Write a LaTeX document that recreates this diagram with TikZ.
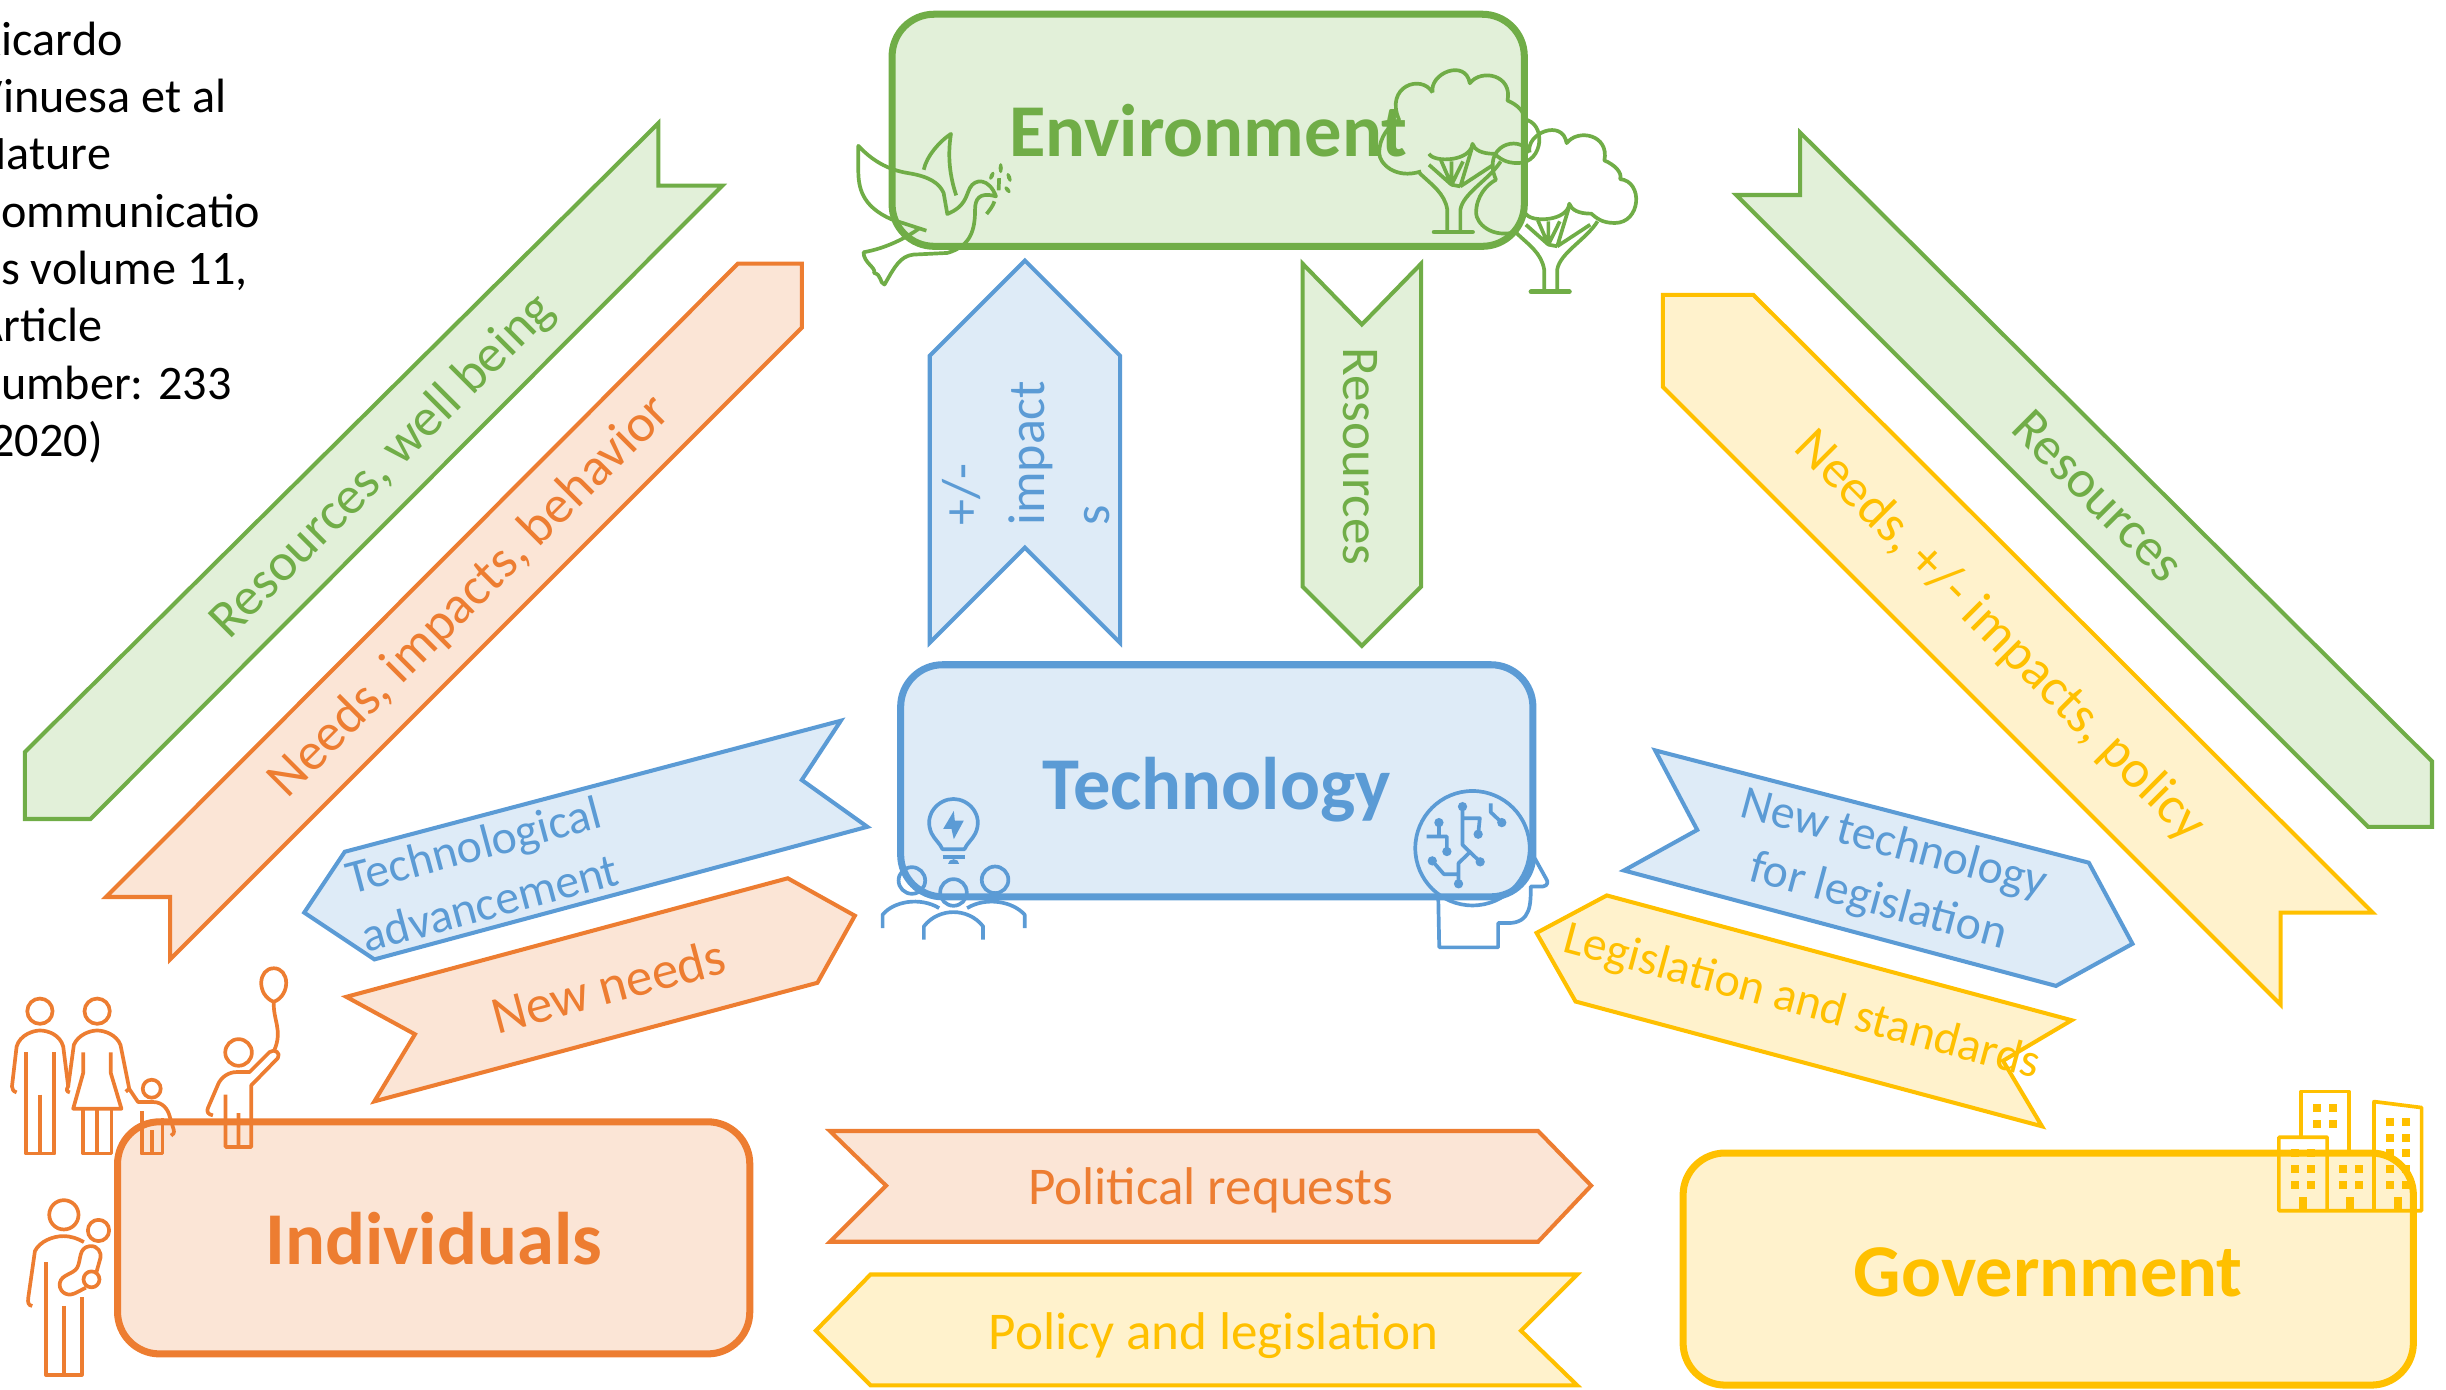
\documentclass[tikz,border=0pt]{standalone}
\usepackage{fontspec}
\setmainfont{Carlito}
\definecolor{cg}{HTML}{70AD47}\definecolor{cgf}{HTML}{E2F0D9}
\definecolor{cb}{HTML}{5B9BD5}\definecolor{cbf}{HTML}{DEEBF7}
\definecolor{co}{HTML}{ED7D31}\definecolor{cof}{HTML}{FBE5D6}
\definecolor{cy}{HTML}{FFC000}\definecolor{cyf}{HTML}{FFF2CC}
\tikzset{
 bx/.style={draw=#1,fill=#1f,line width=2pt,rounded corners=.42cm,minimum width=6.32cm,minimum height=2.32cm,inner sep=0pt,text=#1,font=\fontsize{21.2}{25}\selectfont\bfseries},
 ar/.style={draw=#1,fill=#1f,line width=1.15pt,miter limit=10},
 lb/.style={text=#1,inner sep=0pt,align=center,font=\fontsize{15.1}{18}\selectfont},
 lbs/.style={text=#1,inner sep=0pt,font=\fontsize{13.6}{17}\selectfont},
 ic/.style={draw=#1,line width=1.05pt,line join=round,fill=none},
 icf/.style={fill=#1,draw=none},
}
\begin{document}
\begin{tikzpicture}[x=0.0156cm,y=-0.0156cm]
\useasboundingbox (0,0) rectangle (1568,891);
% top-left note
\node[anchor=north west,inner sep=0pt,align=left,font=\fontsize{13.7}{16.3}\selectfont] (note) at (-16,13.5) {Ricardo\\Vinuesa et al\\Nature\\Communicatio\\ns volume 11,\\Article\\number: 233\\(2020)};
% boxes
\node[bx=cg] (env) at (774.5,83.5) {Environment};
\node[bx=cb,text depth=0pt,text height=16.5pt] (tech) at (780,500.5) {Technology};
\node[bx=co,text height=15.5pt] (ind) at (278,793.5) {Individuals};
\node[bx=cy,minimum width=7.3cm,text height=16pt] (gov) at (1313,813.5) {Government};
% ribbons
\draw[ar=cg] (16,482)--(422,79)--(422,119)--(463,119)--(58,525)--(16,525)--cycle;
\draw[ar=co] (473,169)--(514,169)--(514,210)--(109,615)--(109,575)--(68,575)--cycle;
\draw[ar=cg] (1154,85)--(1154,125)--(1113,125)--(1518,530)--(1559,530)--(1559,488)--cycle;
\draw[ar=cy] (1066,189)--(1124,189)--(1521,585)--(1462,585)--(1462,644)--(1066,248)--cycle;
\draw[ar=cb] (657,167)--(718,228)--(718,412)--(657,351)--(596,412)--(596,228)--cycle;
\draw[ar=cg] (835,169)--(873,208)--(911,169)--(911,376)--(873,414)--(835,376)--cycle;
\draw[ar=cb] (195,585)--(221,546)--(539,462)--(514,500)--(556,530)--(240,615)--cycle;
\draw[ar=co] (222,639)--(505,563)--(548,587)--(524,630)--(240,706)--(266,663)--cycle;
\draw[ar=cb] (1061,481)--(1339,553)--(1367,605)--(1318,632)--(1041,558)--(1088,532)--cycle;
\draw[ar=cy] (1030,574)--(1328,654)--(1284,680)--(1309,722)--(1010,642)--(985,598)--cycle;
\draw[ar=co] (532,725)--(986,725)--(1020,760)--(986,796)--(532,796)--(568,760)--cycle;
\draw[ar=cy] (1011,817)--(975,853)--(1011,888)--(558,888)--(523,853)--(558,817)--cycle;
% labels
\node[lb=cg,rotate=45] (l1) at (245.5,299) {Resources, well being};
\node[lb=co,rotate=45] (l2) at (301.5,382.5) {Needs, impacts, behavior};
\node[lb=cg,rotate=-45] (l3) at (1345,318) {Resources};
\node[lb=cy,rotate=-45] (l4) at (1282,408) {Needs, +/- impacts, policy};
\node[lb=cb,rotate=90,align=left,font=\fontsize{14.8}{18.6}\selectfont] (l5) at (658,290.5) {+/-\\impact\\s};
\node[lb=cg,rotate=-90] (l6) at (872,292.5) {Resources};
\node[lbs=cb,rotate=15,align=left] (l7) at (309,560) {Technological\\advancement};
\node[lb=co,rotate=15] (l8) at (390,632) {New needs};
\node[lbs=cb,rotate=-15,align=center] (l9) at (1209,560) {New technology\\for legislation};
\node[lbs=cy,rotate=-15] (l10) at (1155,643) {Legislation and standards};
\node[lb=co] (l11) at (776,763) {Political requests};
\node[lb=cy] (l12) at (778,856) {Policy and legislation};
% family icons (crop 0,940; 3x)
\begin{scope}[shift={(0,602.56)},x=0.0033333cm,y=-0.0033333cm]
\begin{scope}[ic=co]
\draw (120,214) circle (38);
\draw (50,458) .. controls (40,455) and (36,448) .. (36,440) -- (50,320) .. controls (60,285) and (100,272) .. (120,272) .. controls (145,272) and (180,285) .. (190,320) -- (205,440) .. controls (198,450) and (200,456) .. (210,458);
\draw (78,338)--(78,642)--(163,642)--(163,338) (120,465)--(120,642);
\draw (292,214) circle (38);
\draw (205,440)  -- (222,315) .. controls (235,285) and (270,272) .. (292,272) .. controls (315,272) and (350,285) .. (362,315) -- (388,445);
\draw (250,338)--(250,400)--(220,507)--(365,507)--(333,400)--(333,338);
\draw (250,507)--(250,642)--(335,642)--(335,507) (292,507)--(292,642);
\draw (378,456)--(388,447)--(415,487)--(460,487) .. controls (490,487) and (505,510) .. (510,530) -- (522,570) .. controls (525,580) and (520,585) .. (514,588);
\draw (456,447) circle (27);
\draw (426,515)--(426,642)--(488,642)--(488,535) (456,572)--(456,642);
\draw (717,338) circle (40);
\draw (640,527) .. controls (625,525) and (620,515) .. (625,505) -- (655,435) .. controls (665,410) and (690,397) .. (710,397) -- (750,397) -- (810,337) .. controls (825,325) and (845,340) .. (835,355) -- (755,437) -- (755,622) -- (678,622) -- (678,465) (717,520)--(717,622);
\draw (823,186) .. controls (770,165) and (775,85) .. (823,85) .. controls (870,85) and (875,165) .. (823,186) .. controls (820,240) and (850,270) .. (825,330);
\draw (192,826) circle (44);
\draw (296,873) circle (32);
\draw (97,1100) .. controls (85,1098) and (83,1090) .. (85,1075) -- (105,935) .. controls (120,905) and (160,890) .. (190,890) .. controls (215,890) and (235,898) .. (252,908);
\draw (258,1045) -- (225,1062) .. controls (195,1075) and (175,1050) .. (180,1030) .. controls (185,1005) and (220,1005) .. (232,985) .. controls (245,960) and (235,925) .. (270,920) .. controls (295,918) and (305,940) .. (302,955) -- (290,998);
\draw (275,1020) circle (24);
\draw (138,968)--(138,1307)--(246,1307)--(246,1072) (192,1100)--(192,1307);
\end{scope}
\end{scope}
% bird and trees (crop 840,30; x 1.912, y 3)
\begin{scope}[shift={(538.46,19.23)},x=0.00523cm,y=-0.0033333cm]
\begin{scope}[ic=cg]
\draw (165,603) -- (100,570) .. controls (40,530) and (35,470) .. (35,420) -- (35,348) .. controls (60,390) and (90,420) .. (130,430) .. controls (170,440) and (190,460) .. (198,490) -- (205,553) .. controls (240,530) and (240,500) .. (248,475) .. controls (258,445) and (285,445) .. (298,500) .. controls (265,485) and (258,510) .. (258,540) .. controls (258,600) and (250,650) .. (205,670) -- (140,675) .. controls (115,680) and (105,710) .. (85,765) .. controls (75,760) and (80,735) .. (65,730) .. controls (70,715) and (45,700) .. (45,668) .. controls (90,655) and (125,625) .. (150,598);
\draw (160,420) .. controls (165,380) and (190,335) .. (212,312) .. controls (205,380) and (210,440) .. (222,497);
\draw (295,515) .. controls (292,530) and (285,543) .. (280,553);
\draw (304,445)--(303,482);
\foreach \px/\py/\pr/\pa/\pb in {307/415/4/15/0, 290/438/4/13/-25, 323/443/4/14/20, 320/480/4/12/40}{
 \fill[cg,rotate around={\pb:(\px,\py)}] (\px,\py) ellipse [x radius=\pr,y radius=\pa];}
\foreach \tx/\ty in {0/0,185/180}{
\begin{scope}[shift={(\tx,\ty)}]
\draw (1132,188) .. controls (1125,130) and (1195,85) .. (1203,160) .. controls (1225,115) and (1285,135) .. (1275,212) .. controls (1295,225) and (1310,250) .. (1305,268) .. controls (1350,275) and (1345,400) .. (1295,400) .. controls (1270,400) and (1260,385) .. (1250,372) .. controls (1225,372) and (1212,360) .. (1208,342) .. controls (1205,395) and (1135,400) .. (1125,372);
\draw (1110,425) .. controls (1060,450) and (1030,400) .. (1030,370) .. controls (1030,320) and (1050,285) .. (1068,270) .. controls (1040,170) and (1110,130) .. (1132,188);
\draw (1160,603) -- (1160,540) .. controls (1155,490) and (1130,465) .. (1107,430);
\draw (1185,603) -- (1185,540) .. controls (1190,490) and (1240,450) .. (1262,395);
\draw (1125,405) -- (1168,465) -- (1148,392) (1168,465) -- (1168,395) (1185,470) -- (1208,350) (1185,470) -- (1248,405) (1168,465)--(1185,470) (1168,465)--(1190,395);
\draw[line width=1.4pt,line cap=round] (1135,607)--(1208,607);
\end{scope}}
\end{scope}
\end{scope}
% bulb and people (crop 860,780; 3x)
\begin{scope}[shift={(551.28,500)},x=0.0033333cm,y=-0.0033333cm]
\begin{scope}[ic=cb]
\draw (248,208) .. controls (240,190) and (225,180) .. (215,160) .. controls (190,105) and (235,57) .. (281,57) .. controls (327,57) and (372,105) .. (347,160) .. controls (337,180) and (322,190) .. (314,208) -- cycle;
\draw (248,232)--(315,232);
\fill[icf=cb] (265,252)--(298,252) arc (0:180:16.5 and -14) -- cycle;
\fill[icf=cb] (282,93)--(250,147)--(275,147)--(282,178)--(312,122)--(285,122)--cycle;
\draw (156,302) circle (40) (281,338) circle (40) (406,300) circle (40);
\draw (68,445)--(68,405) .. controls (100,365) and (180,350) .. (238,385);
\draw (495,445)--(495,405) .. controls (460,365) and (380,350) .. (322,385);
\draw (192,480)--(192,440) .. controls (215,410) and (250,397) .. (281,397) .. controls (312,397) and (347,410) .. (370,440) -- (370,480);
\end{scope}
\end{scope}
% head (crop 1400,780; 3x)
\begin{scope}[shift={(897.44,500)},x=0.0033333cm,y=-0.0033333cm]
\begin{scope}[ic=cb]
\draw (218,205) circle (172);
\draw (115,350)--(118,503)--(295,503)--(295,430)--(325,430) .. controls (395,430) and (393,370) .. (393,320) -- (430,320) .. controls (445,318) and (445,305) .. (440,298) -- (405,235);
\draw (188,80)--(188,195)--(241,246) (188,115)--(240,115)--(235,163) (117,128)--(117,170) (80,170)--(141,170)--(141,215) (97,243)--(132,283)--(176,283) (176,312)--(176,250)--(210,217) (273,70)--(273,97)--(306,128);
\foreach \dx/\dy in {188/80,117/128,235/163,306/128,141/215,97/243,241/246,176/312}{\fill[icf=cb] (\dx,\dy) circle (14);}
\end{scope}
\end{scope}
% buildings (crop 2240,1060; 3x)
\begin{scope}[shift={(1435.9,679.49)},x=0.0033333cm,y=-0.0033333cm]
\begin{scope}[ic=cy]
\draw[miter limit=10] (183,230)--(183,95)--(327,95)--(327,270);
\draw (403,270)--(403,125)--(546,143)--(546,453)--(117,453)--(117,232)--(262,232)--(262,453) (403,270)--(403,453);
\foreach \wx/\wy in {219/132,267/132,219/180,267/180,153/267,201/267,153/315,201/315,153/363,201/363,297/315,345/315,297/363,345/363,438/174,486/174,438/222,486/222,438/267,486/267,438/315,486/315,438/363,486/363}{\fill[icf=cy] (\wx,\wy) rectangle ++(24,24);}
\foreach \wx in {177,320,462}{\fill[icf=cy] (\wx,411) rectangle ++(24,42);}
\end{scope}
\end{scope}
\end{tikzpicture}
\end{document}
